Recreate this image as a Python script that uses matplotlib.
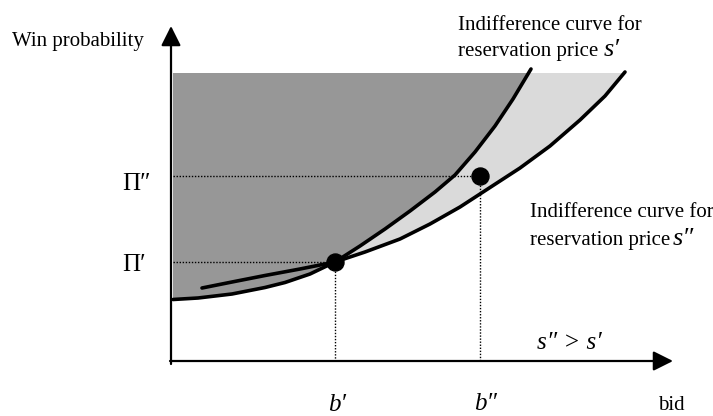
import matplotlib
matplotlib.use("Agg")
import matplotlib.pyplot as plt
from matplotlib.patches import Rectangle

plt.rcParams['font.family'] = ['Liberation Serif', 'DejaVu Serif']

# Indifference curve for s' (steeper, lower boundary of dark region)
s1_x = [173, 198, 232, 265, 285, 310, 335, 360, 385, 410, 435, 455, 475, 495, 513, 531]
s1_y = [299.5, 298, 294, 287.5, 282.5, 274, 262, 246, 229, 211, 192, 175, 152, 126, 99, 69]
# Indifference curve for s'' (flatter)
s2_x = [202, 232, 265, 300, 335, 365, 400, 430, 460, 480, 500, 520, 550, 580, 605, 625]
s2_y = [288, 282, 275.5, 269, 262, 252, 239, 224, 207, 194, 181, 168, 146, 120, 96, 72]

# points
b_vals = [335, 480]
pi_vals = [262, 176]
b_labels = ["b\u2032", "b\u2033"]
pi_labels = ["\u03a0\u2032", "\u03a0\u2033"]

x0, y_axis_bottom = 171, 361
y_top = 73

fig = plt.figure(figsize=(7.13, 4.16), dpi=100)
ax = fig.add_axes([0, 0, 1, 1])
ax.set_xlim(0, 713)
ax.set_ylim(416, 0)
ax.axis('off')

clip = Rectangle((173, y_top), 600, 300, transform=ax.transData)

# dark region: above s' curve
dark_x = [173, s1_x[-1]] + s1_x[::-1]
dark_y = [y_top - 10, y_top - 10] + s1_y[::-1]
p = ax.fill(dark_x, dark_y, color='#979797', lw=0, zorder=1)[0]
p.set_clip_path(clip)

# light region: between s' and s'' right of b'
i1 = s1_x.index(335)
i2 = s2_x.index(335)
lx = s2_x[i2:] + [s2_x[-1], s1_x[-1]] + s1_x[i1:][::-1]
ly = s2_y[i2:] + [y_top - 10, y_top - 10] + s1_y[i1:][::-1]
p2 = ax.fill(lx, ly, color='#dadada', lw=0, zorder=1)[0]
p2.set_clip_path(clip)

# dotted guide lines
for b, pi in zip(b_vals, pi_vals):
    ax.plot([173, b], [pi, pi], color='black', lw=1.0, ls=(0, (1, 1.2)), zorder=2)
    ax.plot([b, b], [pi, y_axis_bottom], color='black', lw=1.0, ls=(0, (1, 1.2)), zorder=2)

# curves
ax.plot(s1_x, s1_y, color='black', lw=2.6, solid_capstyle='round', zorder=3)
ax.plot(s2_x, s2_y, color='black', lw=2.6, solid_capstyle='round', zorder=3)

# dots
ax.scatter(b_vals, pi_vals, s=150, color='black', zorder=4)

# axes with arrows
ax.annotate('', xy=(x0, 26), xytext=(x0, 364),
            arrowprops=dict(arrowstyle='-|>,head_length=1.2,head_width=0.6',
                            mutation_scale=10, lw=1.6, color='black', shrinkA=0, shrinkB=0))
ax.annotate('', xy=(673, y_axis_bottom), xytext=(x0 - 1, y_axis_bottom),
            arrowprops=dict(arrowstyle='-|>,head_length=1.2,head_width=0.6',
                            mutation_scale=10, lw=1.6, color='black', shrinkA=0, shrinkB=0))

fs = 15
ax.text(12, 46, "Win probability", fontsize=fs, ha='left', va='baseline')
ax.text(122, 190, pi_labels[1], fontsize=fs + 3, ha='left', va='baseline')
ax.text(122, 271, pi_labels[0], fontsize=fs + 3, ha='left', va='baseline')
ax.text(337, 411, b_labels[0], fontsize=fs + 3, ha='center', va='baseline', style='italic')
ax.text(486, 410, b_labels[1], fontsize=fs + 3, ha='center', va='baseline', style='italic')
ax.text(658, 410, "bid", fontsize=fs, ha='left', va='baseline')
ax.text(537, 349, "s\u2033 > s\u2032", fontsize=fs + 3, ha='left', va='baseline', style='italic')

ax.text(458, 30, "Indifference curve for", fontsize=fs, ha='left', va='baseline')
ax.text(458, 56, "reservation price", fontsize=fs, ha='left', va='baseline')
ax.text(604, 56, "s\u2032", fontsize=fs + 4, ha='left', va='baseline', style='italic')

ax.text(530, 217, "Indifference curve for", fontsize=fs, ha='left', va='baseline')
ax.text(530, 245, "reservation price", fontsize=fs, ha='left', va='baseline')
ax.text(673, 245, "s\u2033", fontsize=fs + 4, ha='left', va='baseline', style='italic')

fig.savefig('out.png', dpi=100)
